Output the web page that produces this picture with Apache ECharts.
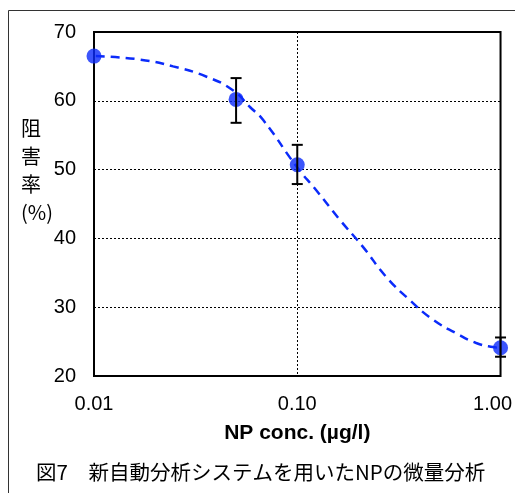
<!DOCTYPE html>
<html>
<head>
<meta charset="utf-8">
<script src="https://cdn.jsdelivr.net/npm/echarts@6/dist/echarts.min.js"></script>
<style>
  html, body { margin: 0; padding: 0; background: #fff; }
  #main { width: 515px; height: 493px; }
</style>
</head>
<body>
<div id="main"></div>
<script>
// 測定点
const concs = [0.01, 0.05, 0.1, 1.0]
const rates = [66.5, 60.2, 50.7, 24.1]
// 誤差範囲 (最初の点はなし)
const errLow = [null, 56.8, 47.9, 22.8]
const errHigh = [null, 63.3, 53.6, 25.6]
// 近似曲線
const fitX = [0.0102, 0.0168, 0.0245, 0.0358, 0.0484, 0.0585, 0.068, 0.1, 0.124, 0.162, 0.21, 0.274, 0.357, 0.465, 0.606, 0.759, 0.917, 1.0]
const fitY = [66.5, 66.0, 65.0, 63.5, 61.5, 59.1, 57.2, 50.3, 47.0, 42.7, 38.8, 34.4, 31.05, 28.2, 26.2, 24.8, 24.2, 24.1]
// 軸目盛
const yTicks = [20, 30, 40, 50, 60, 70]

const blue = '#0b2bfa'
const font = 'Liberation Sans, Arial, sans-serif'
const cjk = '"Noto Sans CJK JP", sans-serif'

const myChart = echarts.init(document.getElementById('main'))

const option = {
  animation: false,
  backgroundColor: '#fff',
  title: [
    {
      text: '阻\n害\n率\n(%)',
      left: 21,
      top: 114,
      padding: 0,
      textStyle: { fontFamily: cjk, fontSize: 20, fontWeight: 'normal', color: '#000', lineHeight: 28 }
    },
    {
      text: '図7　新自動分析システムを用いたNPの微量分析',
      left: 36,
      top: 460,
      padding: 0,
      textStyle: { fontFamily: cjk, fontSize: 20.5, fontWeight: 'normal', color: '#000', lineHeight: 24 }
    }
  ],
  graphic: [
    {
      type: 'rect',
      shape: { x: 8.5, y: 10.5, width: 530, height: 520 },
      style: { fill: 'none', stroke: '#333', lineWidth: 1 },
      silent: true
    }
  ],
  grid: {
    left: 94,
    right: 14,
    top: 32,
    bottom: 117,
    show: true,
    borderColor: '#000',
    borderWidth: 2,
    z: 3
  },
  xAxis: {
    type: 'log',
    logBase: 10,
    min: 0.01,
    max: 1,
    name: 'NP conc. (µg/l)',
    nameLocation: 'middle',
    nameGap: 47,
    nameTextStyle: { fontFamily: font, fontSize: 21, fontWeight: 'bold', color: '#000' },
    axisLine: { show: false },
    axisTick: { show: false },
    minorTick: { show: false },
    axisLabel: {
      margin: 18,
      fontFamily: font,
      fontSize: 20,
      color: '#000',
      formatter: (v) => {
        const s = Number(v).toFixed(2)
        return Math.abs(v - 1) < 1e-6 ? '{r|' + s + '}' : s
      },
      rich: {
        r: { fontFamily: font, fontSize: 20, color: '#000', padding: [0, 16, 0, 0] }
      }
    },
    splitLine: { show: true, lineStyle: { color: '#000', type: [2, 2], width: 1 } }
  },
  yAxis: {
    type: 'value',
    min: yTicks[0],
    max: yTicks[yTicks.length - 1],
    interval: 10,
    axisLine: { show: false },
    axisTick: { show: false },
    axisLabel: { margin: 18, fontFamily: font, fontSize: 20, color: '#000' },
    splitLine: { show: true, lineStyle: { color: '#000', type: [2, 2], width: 1 } }
  },
  series: [
    {
      // 近似曲線
      type: 'line',
      data: fitX.map((x, i) => [x, fitY[i]]),
      smooth: 0.5,
      symbol: 'none',
      lineStyle: { color: blue, width: 2.5, type: [9, 6] },
      z: 2
    },
    {
      // 測定値
      type: 'scatter',
      data: concs.map((x, i) => [x, rates[i]]),
      symbol: 'circle',
      symbolSize: 15,
      itemStyle: { color: blue },
      z: 4
    },
    {
      // 誤差棒
      type: 'custom',
      data: concs.map((x, i) => [x, errLow[i], errHigh[i]]).filter((d) => d[1] !== null),
      renderItem: (params, api) => {
        const lo = api.coord([api.value(0), api.value(1)])
        const hi = api.coord([api.value(0), api.value(2)])
        const w = 5.5
        const style = { stroke: '#000', lineWidth: 2 }
        return {
          type: 'group',
          children: [
            { type: 'line', shape: { x1: lo[0], y1: lo[1], x2: hi[0], y2: hi[1] }, style },
            { type: 'line', shape: { x1: lo[0] - w, y1: lo[1], x2: lo[0] + w, y2: lo[1] }, style },
            { type: 'line', shape: { x1: hi[0] - w, y1: hi[1], x2: hi[0] + w, y2: hi[1] }, style }
          ]
        }
      },
      z: 5
    }
  ]
}

option && myChart.setOption(option)
</script>
</body>
</html>
